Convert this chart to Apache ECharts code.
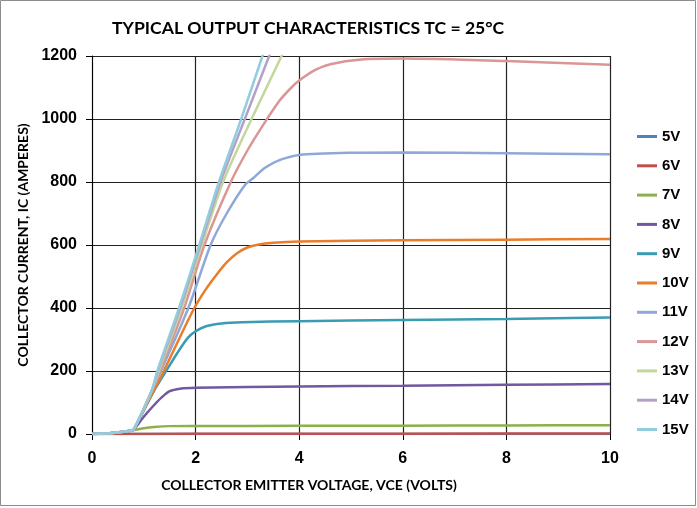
<!DOCTYPE html>
<html>
<head>
<meta charset="utf-8">
<title>Typical Output Characteristics</title>
<script src="https://cdn.jsdelivr.net/npm/echarts@6/dist/echarts.min.js"></script>
<style>
  html, body { margin: 0; padding: 0; background: #fff; }
  #chart { width: 697px; height: 508px; }
</style>
</head>
<body>
<div id="chart"></div>
<script>
// gate voltages (legend)
const gateLabels = ['5V', '6V', '7V', '8V', '9V', '10V', '11V', '12V', '13V', '14V', '15V'];

// [VCE (V), IC (A)]
const ic5V = [[0, 0], [2, 0], [4, 0], [6, 0], [8, 0], [10, 0]];
const ic6V = [[0, 0], [2, 0.5], [6, 1], [10, 1.5]];
const ic7V = [[0, 0], [0.4, 3], [0.75, 10], [0.8, 12], [1.0, 18], [1.2, 22], [1.5, 25], [2, 25.5], [4, 26], [6, 26.5], [8, 27], [10, 28]];
const ic8V = [[0, 0], [0.4, 3], [0.75, 10], [0.8, 13], [1.0, 55], [1.2, 92], [1.35, 117], [1.5, 136], [1.7, 144], [2, 147], [4, 151], [6, 153], [8, 156], [10, 159]];
const ic9V = [[0, 0], [0.4, 3], [0.75, 10], [0.8, 13], [1.0, 75], [1.2, 138], [1.45, 205], [1.65, 258], [1.85, 305], [2.0, 326], [2.2, 342], [2.5, 351], [2.9, 355], [4, 358], [6, 362], [8, 365], [10, 370]];
const ic10V = [[0, 0], [0.4, 3], [0.75, 10], [0.8, 13], [1.0, 76], [1.2, 140], [1.4, 205], [1.69, 305], [1.975, 400], [2.2, 460], [2.4, 505], [2.6, 545], [2.8, 574], [3.0, 592], [3.2, 601], [3.5, 607], [4, 611], [6, 615], [8, 617], [10, 619]];
const ic11V = [[0, 0], [0.4, 3], [0.75, 10], [0.8, 13], [1.0, 80], [1.16, 140], [1.33, 200], [1.86, 400], [2.29, 600], [2.6, 700], [2.95, 790], [3.11, 812], [3.34, 845], [3.63, 870], [4, 886], [5, 893], [6, 894], [8, 891], [10, 888]];
const ic12V = [[0, 0], [0.4, 3], [0.75, 10], [0.8, 13], [1.0, 80], [1.16, 140], [1.31, 200], [1.78, 400], [2.17, 600], [2.68, 800], [3.0, 900], [3.34, 990], [3.63, 1060], [3.85, 1100], [4, 1122], [4.3, 1155], [4.6, 1174], [5.2, 1189], [6, 1192], [8, 1184], [10, 1172]];
const ic13V = [[0, 0], [0.4, 3], [0.75, 10], [0.8, 13], [1.0, 80], [1.16, 140], [1.29, 200], [1.73, 400], [2.12, 600], [2.53, 800], [3.08, 1000], [3.66, 1200], [3.85, 1270]];
const ic14V = [[0, 0], [0.4, 3], [0.75, 10], [0.8, 13], [1.0, 80], [1.16, 140], [1.27, 200], [1.70, 400], [2.09, 600], [2.48, 800], [2.95, 1000], [3.42, 1200], [3.6, 1280]];
const ic15V = [[0, 0], [0.4, 3], [0.75, 10], [0.8, 13], [1.0, 80], [1.16, 140], [1.26, 200], [1.68, 400], [2.07, 600], [2.45, 800], [2.88, 1000], [3.29, 1200], [3.45, 1280]];

const curves = [ic5V, ic6V, ic7V, ic8V, ic9V, ic10V, ic11V, ic12V, ic13V, ic14V, ic15V];
const colors = ['#4F81BD', '#C0504D', '#8DB04A', '#71589F', '#3A9BB5', '#E97D2A',
                '#8EA9D8', '#D99694', '#C3D69B', '#B3A2C7', '#93CDDD'];

const narrow = "Lato, 'Open Sans', sans-serif";
const wide = "'Liberation Sans', Arial, sans-serif";

const chart = echarts.init(document.getElementById('chart'));

const option = {
  backgroundColor: '#fff',
  animation: false,
  color: colors,
  title: {
    text: 'TYPICAL OUTPUT CHARACTERISTICS TC = 25°C',
    left: 107,
    top: 14,
    textStyle: { fontFamily: narrow, fontWeight: 'bold', fontSize: 17.6, color: '#000' }
  },
  legend: {
    orient: 'vertical',
    left: 632,
    top: 124,
    icon: 'rect',
    itemWidth: 20,
    itemHeight: 3,
    itemGap: 14.3,
    data: gateLabels,
    textStyle: { fontFamily: wide, fontWeight: 'bold', fontSize: 15, color: '#000', lineHeight: 14, height: 14 }
  },
  grid: { left: 92, right: 87, top: 56, bottom: 74 },
  xAxis: {
    type: 'value',
    min: 0,
    max: 10,
    interval: 2,
    name: 'COLLECTOR EMITTER VOLTAGE, VCE (VOLTS)',
    nameLocation: 'middle',
    nameGap: 44,
    nameTextStyle: { fontFamily: narrow, fontWeight: 'bold', fontSize: 14, color: '#000', padding: [0, 84, 0, 0] },
    axisLine: { lineStyle: { color: '#000', width: 1 } },
    axisTick: { show: true, length: 6, lineStyle: { color: '#000' } },
    axisLabel: { margin: 17, fontFamily: wide, fontWeight: 'bold', fontSize: 16, color: '#000' },
    splitLine: { show: true, lineStyle: { color: '#222', width: 1.2 } }
  },
  yAxis: {
    type: 'value',
    min: 0,
    max: 1200,
    interval: 200,
    name: 'COLLECTOR CURRENT, IC (AMPERES)',
    nameLocation: 'middle',
    nameGap: 53,
    nameTextStyle: { fontFamily: narrow, fontWeight: 'bold', fontSize: 14, color: '#000' },
    axisLine: { show: true, lineStyle: { color: '#000', width: 1 } },
    axisTick: { show: true, length: 6, lineStyle: { color: '#000' } },
    axisLabel: { margin: 15, fontFamily: wide, fontWeight: 'bold', fontSize: 16, color: '#000', formatter: v => String(v) },
    splitLine: { show: true, lineStyle: { color: '#222', width: 1.2 } }
  },
  graphic: [{
    type: 'rect',
    shape: { x: 0.5, y: 0.5, width: 695, height: 505 },
    style: { fill: 'none', stroke: '#8c8c8c', lineWidth: 1 },
    silent: true
  }],
  series: gateLabels.map((name, i) => ({
    name: name,
    type: 'line',
    data: curves[i],
    showSymbol: false,
    symbol: 'none',
    smooth: 0.25,
    clip: true,
    lineStyle: { width: 2.5 }
  }))
};

chart.setOption(option);
</script>
</body>
</html>
